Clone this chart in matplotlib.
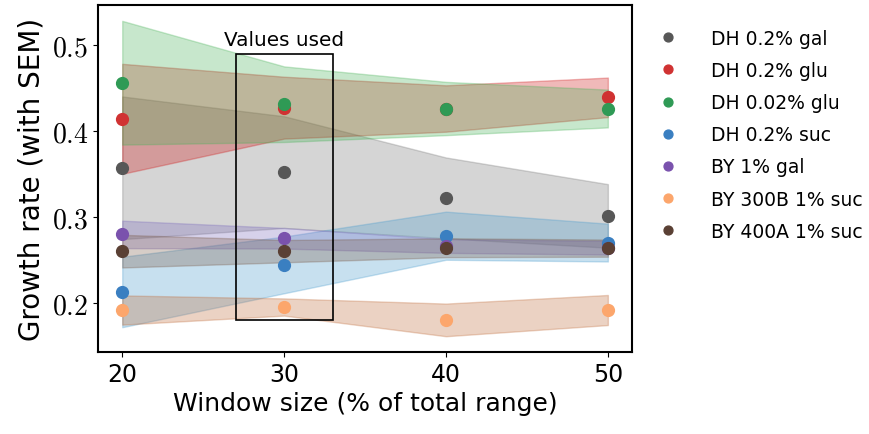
import matplotlib
matplotlib.use('Agg')
import matplotlib.pyplot as plt
from matplotlib.patches import Rectangle

plt.rcParams['font.family'] = ['DejaVu Sans']
plt.rcParams['mathtext.fontset'] = 'cm'

# window sizes (% of total range)
window_sizes = [20, 30, 40, 50]

labels = ['DH 0.2% gal', 'DH 0.2% glu', 'DH 0.02% glu', 'DH 0.2% suc',
          'BY 1% gal', 'BY 300B 1% suc', 'BY 400A 1% suc']

# growth rates and SEM for each strain/condition
dh_gal_rate = [0.357, 0.352, 0.322, 0.301]
dh_gal_sem = [0.083, 0.065, 0.047, 0.037]
dh_glu_rate = [0.414, 0.427, 0.426, 0.439]
dh_glu_sem = [0.064, 0.036, 0.027, 0.023]
dh_glu002_rate = [0.456, 0.431, 0.426, 0.426]
dh_glu002_sem = [0.072, 0.044, 0.031, 0.022]
dh_suc_rate = [0.2125, 0.244, 0.278, 0.270]
dh_suc_sem = [0.041, 0.033, 0.028, 0.022]
by_gal_rate = [0.2795, 0.275, 0.266, 0.264]
by_gal_sem = [0.016, 0.012, 0.008, 0.008]
by300_suc_rate = [0.1915, 0.195, 0.180, 0.1915]
by300_suc_sem = [0.017, 0.010, 0.019, 0.0175]
by400_suc_rate = [0.260, 0.260, 0.264, 0.2635]
by400_suc_sem = [0.019, 0.013, 0.011, 0.010]

rates = [dh_gal_rate, dh_glu_rate, dh_glu002_rate, dh_suc_rate,
         by_gal_rate, by300_suc_rate, by400_suc_rate]
sems = [dh_gal_sem, dh_glu_sem, dh_glu002_sem, dh_suc_sem,
        by_gal_sem, by300_suc_sem, by400_suc_sem]

point_colors = ['#575757', '#d03232', '#2f9a55', '#3a7fc1',
                '#7a52ad', '#fca66c', '#5a4034']
band_colors = ['#767676', '#d01818', '#48b258', '#489bcd',
               '#7a69bc', '#c06c3a', '#7a5a48']

fig = plt.figure(figsize=(8.7, 4.35), dpi=100)
ax = fig.add_axes([0.1126, 0.1885, 0.614, 0.7975])

for rate, sem, c in zip(rates, sems, band_colors):
    lo = [r - s for r, s in zip(rate, sem)]
    hi = [r + s for r, s in zip(rate, sem)]
    ax.fill_between(window_sizes, lo, hi, color=c, alpha=0.3, linewidth=1)

for rate, c, lab in zip(rates, point_colors, labels):
    ax.plot(window_sizes, rate, 'o', color=c, ms=8.5, label=lab, zorder=3)

# box marking the window size that was used
ax.add_patch(Rectangle((27, 0.18), 6, 0.31, fill=False, edgecolor='black', linewidth=1.2, zorder=4))
ax.text(30, 0.495, 'Values used', ha='center', va='bottom', fontsize=14.4)

ax.set_xticks(window_sizes)
ax.set_xticklabels([str(w) for w in window_sizes], fontsize=17)
yt = [0.2, 0.3, 0.4, 0.5]
ax.set_yticks(yt)
ax.set_yticklabels(['$%.1f$' % v for v in yt], fontsize=20)
ax.set_xlabel('Window size (% of total range)', fontsize=18)
ax.set_ylabel('Growth rate (with SEM)', fontsize=20)

for sp in ax.spines.values():
    sp.set_linewidth(1.5)

ax.legend(loc='upper left', bbox_to_anchor=(1.0, 0.98), frameon=False, fontsize=13.5,
          markerscale=0.75, handletextpad=1.29, labelspacing=0.7)

plt.savefig('out.png', dpi=100)
